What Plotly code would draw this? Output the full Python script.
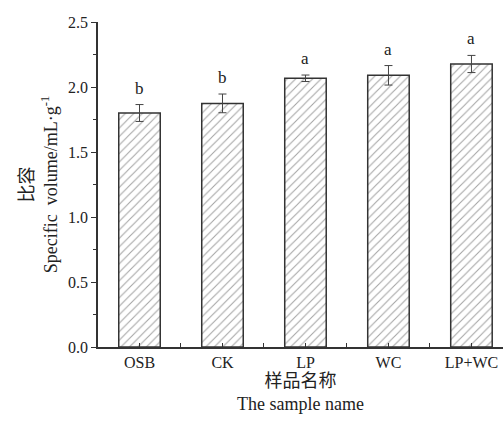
import plotly.graph_objects as go

# Specific volume of the samples
samples = ["OSB", "CK", "LP", "WC", "LP+WC"]
specific_volume = [1.80, 1.874, 2.067, 2.09, 2.177]
sd = [0.065, 0.072, 0.025, 0.075, 0.066]
groups = ["b", "b", "a", "a", "a"]

pos = list(range(len(samples)))
SERIF = "Liberation Serif, Times New Roman, Noto Sans CJK SC, serif"
INK = "#333333"

fig = go.Figure()
fig.add_trace(go.Bar(
    x=pos, y=specific_volume, width=0.5,
    marker=dict(color="white", line=dict(color=INK, width=1.5),
                pattern=dict(shape="/", fgcolor="#4a4a4a", bgcolor="white",
                             size=6, solidity=0.18)),
    error_y=dict(type="data", array=sd, visible=True, color="#444444",
                 thickness=1, width=4),
    showlegend=False,
))

# significance letters above the error bars
for p, v, e, g in zip(pos, specific_volume, sd, groups):
    fig.add_annotation(x=p, y=v + e, text=g, showarrow=False,
                       yanchor="bottom", yshift=5,
                       font=dict(family=SERIF, size=17, color="#222222"))

fig.update_layout(
    width=503, height=421,
    margin=dict(l=98, r=0, t=22, b=74),
    paper_bgcolor="white", plot_bgcolor="white",
    font=dict(family=SERIF, size=16, color="#222222"),
    bargap=0.5,
)
fig.update_xaxes(
    range=[-0.5, 4.38], tickvals=pos, ticktext=samples,
    showline=True, linecolor=INK, linewidth=1.5, showgrid=False, zeroline=False,
    ticks="inside", ticklen=4, tickcolor=INK, tickwidth=1,
    minor=dict(tickvals=[p + 0.5 for p in pos[:-1]], ticks="inside",
               ticklen=4, tickcolor=INK, tickwidth=1),
    tickfont=dict(size=16),
    title=dict(text="样品名称<br>The sample name", font=dict(size=18), standoff=4),
)
fig.update_yaxes(
    range=[0, 2.5], dtick=0.5, tickformat=".1f",
    showline=True, linecolor=INK, linewidth=1.5, showgrid=False, zeroline=False,
    ticks="outside", ticklen=5, tickcolor=INK, tickwidth=1,
    minor=dict(dtick=0.25, ticks="outside", ticklen=3, tickcolor=INK),
    tickfont=dict(size=16),
    title=dict(text="比容<br>Specific  volume/mL·g<sup>-1</sup>", font=dict(size=18), standoff=6),
)

fig.write_html("out.html")
